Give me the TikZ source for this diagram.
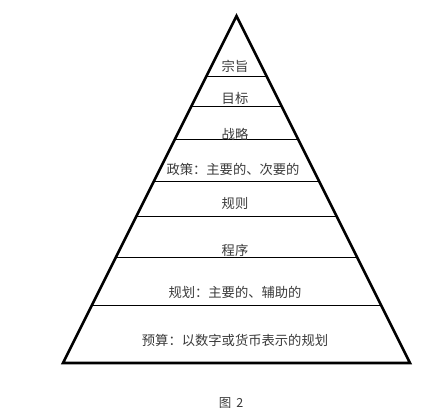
\documentclass[tikz,border=0pt]{standalone}
\usepackage{fontspec}
\newfontfamily\cjk{Noto Sans CJK SC}
\usetikzlibrary{calc}
\definecolor{txtgray}{HTML}{3A3A3A}
\tikzset{
  lbl/.style={font=\cjk\fontsize{13.3}{15}\selectfont, text=txtgray, inner sep=0pt},
  caplbl/.style={font=\cjk\fontsize{12.5}{14}\selectfont, text=txtgray, inner sep=0pt},
  side/.style={line width=2.6pt, line join=miter},
  tier/.style={line width=1pt},
}
\begin{document}
\begin{tikzpicture}[x=1pt,y=1pt]
\useasboundingbox (0,0) rectangle (439,419);
\coordinate (apex) at (236.5,403);
\coordinate (bl) at (63,56);
\coordinate (br) at (410,56);
\foreach \n/\t in {a/0.1758,b/0.2622,c/0.3545,d/0.4769,e/0.5764,f/0.6974,g/0.8357}{
  \coordinate (L\n) at ($(apex)!\t!(bl)$);
  \coordinate (R\n) at ($(apex)!\t!(br)$);
}
\foreach \n in {a,b,c,d,e,f,g}{ \draw[tier] (L\n) -- (R\n); }
\draw[side] (apex) -- (bl) -- (br) -- cycle;
\node[lbl] (t1) at (235,353) {宗旨};
\node[lbl] (t2) at (235,321) {目标};
\node[lbl] (t3) at (235,285) {战略};
\node[lbl] (t4) at (233,250) {政策：主要的、次要的};
\node[lbl] (t5) at (235,215) {规则};
\node[lbl] (t6) at (235,169) {程序};
\node[lbl] (t7) at (235,127) {规划：主要的、辅助的};
\node[lbl] (t8) at (235,79) {预算：以数字或货币表示的规划};
\node[caplbl] (cap) at (231,16) {图\hspace{5pt}2};
\end{tikzpicture}
\end{document}
